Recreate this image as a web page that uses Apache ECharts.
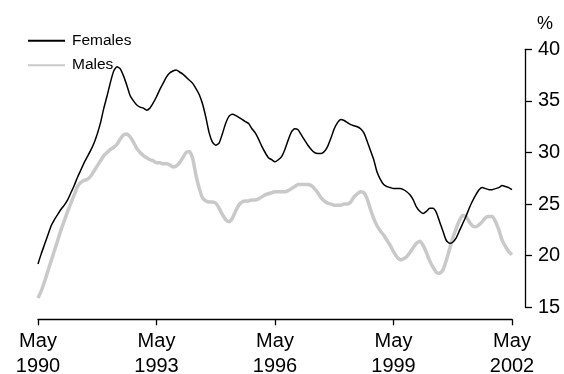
<!DOCTYPE html>
<html>
<head>
<meta charset="utf-8">
<script src="https://cdn.jsdelivr.net/npm/echarts@6/dist/echarts.min.js"></script>
<style>
html,body{margin:0;padding:0;background:#fff;}
#chart{width:564px;height:374px;}
</style>
</head>
<body>
<div id="chart"></div>
<script>
// Monthly, May 1990 .. May 2002 (145 months)
var startYear = 1990, startMonth = 4; // May (0-based)
var females = [
19.2,20.2,21.1,22.0,22.9,23.5,24.0,24.5,24.9,25.4,
26.1,26.8,27.6,28.3,29.0,29.6,30.2,30.9,31.8,32.9,
34.3,35.5,36.8,37.9,38.3,38.1,37.4,36.5,35.5,35.0,
34.6,34.4,34.3,34.1,34.3,34.8,35.4,36.1,36.7,37.3,
37.7,37.9,38.0,37.8,37.6,37.3,37.0,36.7,36.2,35.6,
34.7,33.4,31.9,31.0,30.7,30.9,31.8,32.8,33.5,33.7,
33.6,33.4,33.2,33.0,32.8,32.3,31.9,31.3,30.6,30.0,
29.5,29.3,29.1,29.3,29.6,30.3,31.2,32.0,32.3,32.2,
31.7,31.2,30.7,30.3,30.0,29.9,29.9,30.1,30.6,31.4,
32.3,32.9,33.2,33.1,32.9,32.7,32.6,32.5,32.3,31.9,
31.1,30.2,29.3,28.1,27.4,26.9,26.7,26.6,26.5,26.5,
26.5,26.4,26.2,25.9,25.4,24.7,24.3,24.1,24.3,24.6,
24.6,24.2,23.3,22.4,21.5,21.2,21.3,21.7,22.4,23.1,
23.8,24.6,25.3,25.9,26.4,26.6,26.5,26.4,26.4,26.5,
26.6,26.8,26.7,26.6,26.4
];
var males = [
15.9,16.6,17.5,18.5,19.5,20.5,21.5,22.5,23.4,24.3,
25.1,25.9,26.7,27.1,27.3,27.4,27.7,28.2,28.7,29.2,
29.7,30.0,30.3,30.5,30.8,31.3,31.7,31.8,31.5,31.0,
30.4,30.0,29.7,29.5,29.3,29.2,29.0,29.0,28.9,28.9,
28.8,28.6,28.7,29.0,29.5,30.0,30.1,29.4,27.8,26.5,
25.6,25.3,25.2,25.2,25.1,24.6,24.0,23.5,23.3,23.6,
24.3,24.9,25.2,25.3,25.3,25.4,25.4,25.5,25.7,25.9,
26.0,26.1,26.2,26.2,26.2,26.2,26.3,26.5,26.7,26.9,
26.9,26.9,26.9,26.8,26.5,26.1,25.6,25.3,25.1,25.0,
24.9,24.9,24.9,25.0,25.0,25.2,25.7,26.0,26.2,26.1,
25.5,24.5,23.6,22.9,22.4,22.0,21.5,21.0,20.4,19.9,
19.6,19.7,19.9,20.3,20.8,21.2,21.4,21.0,20.3,19.5,
18.9,18.4,18.3,18.6,19.5,20.6,21.7,22.6,23.4,23.9,
23.8,23.3,22.9,22.8,23.0,23.3,23.7,23.8,23.8,23.3,
22.5,21.5,20.9,20.4,20.1
];
var tickLabels = ['May\n1990','May\n1993','May\n1996','May\n1999','May\n2002'];
var tickEvery = 36;
var yMin = 15, yMax = 40, yStep = 5;

var categories = [];
for (var i = 0; i < females.length; i++) {
  var mIdx = startMonth + i;
  categories.push((startYear + Math.floor(mIdx / 12)) + '-' + ((mIdx % 12) + 1));
}

var FONT = '"Liberation Sans", Arial, sans-serif';
var chart = echarts.init(document.getElementById('chart'), null, {renderer: 'canvas'});
chart.setOption({
  animation: false,
  backgroundColor: '#ffffff',
  title: {
    text: '%', left: 532, top: 10,
    textStyle: {fontFamily: FONT, fontSize: 18, fontWeight: 'normal', color: '#000'}
  },
  legend: {
    orient: 'vertical', left: 22, top: 27.7,
    itemWidth: 37, itemHeight: 14, itemGap: 8.5,
    data: ['Females', 'Males'],
    itemStyle: {opacity: 0},
    textStyle: {fontFamily: FONT, fontSize: 15.5, color: '#000', padding: [0,0,0,2]}
  },
  grid: {left: 38, right: 52, top: 49.3, bottom: 66.7, outerBoundsMode: 'none', containLabel: false},
  xAxis: {
    type: 'category', data: categories, boundaryGap: false,
    offset: 12,
    axisLine: {lineStyle: {color: '#000', width: 1.3}},
    axisTick: {length: 6, lineStyle: {color: '#000', width: 1.3},
      interval: function (idx) { return idx % tickEvery === 0; }},
    axisLabel: {
      interval: function (idx) { return idx % tickEvery === 0; },
      formatter: function (v, idx) { return tickLabels[idx / tickEvery]; },
      fontFamily: FONT, fontSize: 20, color: '#000', lineHeight: 25, margin: 10
    },
    splitLine: {show: false}
  },
  yAxis: {
    type: 'value', position: 'right', offset: 13,
    min: yMin, max: yMax, interval: yStep,
    axisLine: {show: true, lineStyle: {color: '#000', width: 1.3}},
    axisTick: {show: true, length: 7, lineStyle: {color: '#000', width: 1.3}},
    axisLabel: {fontFamily: FONT, fontSize: 20, color: '#000', margin: 13},
    splitLine: {show: false}
  },
  series: [
    {name: 'Males', type: 'line', data: males, symbol: 'none', smooth: 0.2,
      lineStyle: {color: '#c9c9c9', width: 3.5}, itemStyle: {color: '#c9c9c9'}},
    {name: 'Females', type: 'line', data: females, symbol: 'none', smooth: 0.2,
      lineStyle: {color: '#000000', width: 1.5}, itemStyle: {color: '#000000'}}
  ]
});
</script>
</body>
</html>
